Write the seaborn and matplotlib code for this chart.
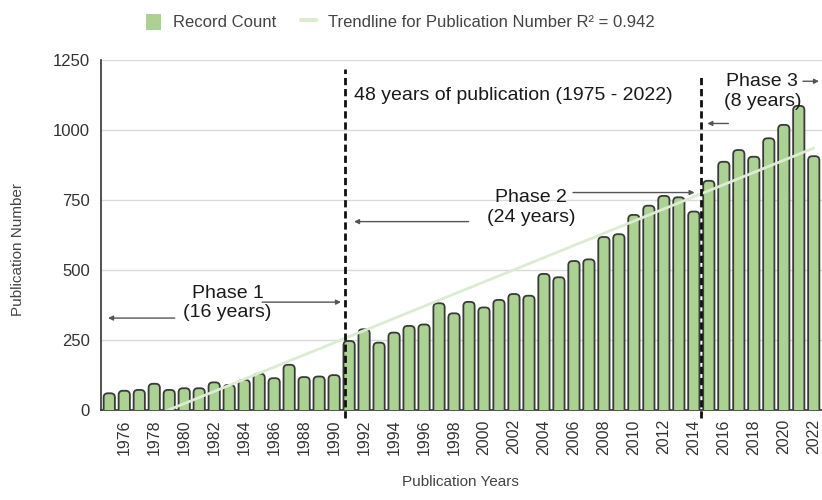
import numpy as np
import pandas as pd
import matplotlib.pyplot as plt
import seaborn as sns
from matplotlib.patches import FancyBboxPatch, Patch
from matplotlib.lines import Line2D

# Publication counts per year
years = list(range(1975, 2023))
record_count = [58, 67, 70, 92, 70, 76, 76, 97, 88, 106, 128, 112, 160, 116, 118, 123,
                245, 287, 239, 275, 299, 304, 380, 344, 385, 365, 392, 413, 407,
                485, 473, 531, 537, 617, 627, 696, 729, 764, 759, 708,
                818, 886, 928, 904, 970, 1018, 1086, 906]
tick_years = list(range(1976, 2023, 2))

# Phase boundaries and labels
phase_bounds = [1990.75, 2014.5]
phase_tops = [1218, 1190]
phase_labels = ["Phase 1\n(16 years)", "Phase 2\n(24 years)", "Phase 3\n(8 years)"]
span_label = "48 years of publication (1975 - 2022)"
r2_label = "Trendline for Publication Number R\u00b2 = 0.942"

bar_color = "#abd193"
edge_color = "#3a3a3a"
trend_color = "#dcecd2"
text_color = "#1a1a1a"
arrow_color = "#555555"

sns.set_theme(style="white")
plt.rcParams['font.family'] = ['Liberation Sans', 'DejaVu Sans']

df = pd.DataFrame({'Year': years, 'Count': record_count})

fig, ax = plt.subplots(figsize=(8.22, 5.0), dpi=100)
fig.subplots_adjust(left=0.1229, right=1.0, bottom=0.181, top=0.88)

sns.barplot(data=df, x='Year', y='Count', native_scale=True, width=0.75,
            color=bar_color, saturation=1, ax=ax)

# swap the plain rectangles for bars with rounded tops
for p in list(ax.patches):
    x0, w, h = p.get_x(), p.get_width(), p.get_height()
    p.remove()
    ax.add_patch(FancyBboxPatch((x0, -40), w, h + 40,
                                boxstyle="round,pad=0,rounding_size=0.28",
                                mutation_aspect=53, fc=bar_color, ec=edge_color,
                                lw=1.3, zorder=3))

# linear trendline
sns.regplot(data=df, x='Year', y='Count', scatter=False, ci=None, ax=ax,
            line_kws=dict(color=trend_color, lw=2, zorder=4))

ax.set_xlim(1974.45, 2022.55)
ax.set_ylim(0, 1250)
ax.set_yticks([0, 250, 500, 750, 1000, 1250])
ax.set_xticks(tick_years)
ax.set_xticklabels([str(y) for y in tick_years], rotation=90)
ax.yaxis.grid(True, color='#d9d9d9', lw=1)
ax.set_axisbelow(True)
ax.tick_params(axis='x', length=0, pad=7, labelsize=11.5, labelcolor='#333333')
ax.tick_params(axis='y', length=0, pad=8, labelsize=12, labelcolor='#333333')
ax.set_xlabel('')
ax.set_ylabel('')
for s in ['top', 'right']:
    ax.spines[s].set_visible(False)
for s in ['left', 'bottom']:
    ax.spines[s].set_color('#333333')
    ax.spines[s].set_linewidth(1.2)

# phase boundaries
for xb, top in zip(phase_bounds, phase_tops):
    ax.plot([xb, xb], [-30, top], color='#111111', lw=2, ls='--',
            dashes=(2.6, 1.4), clip_on=False, zorder=5)

ax.text(1991.33, 1124, span_label, ha='left', va='center', fontsize=14,
        color=text_color, zorder=6)

ax.text(1982.9, 381, phase_labels[0], ha='center', va='center', fontsize=14,
        color=text_color, zorder=6)
ax.text(2003.15, 723, phase_labels[1], ha='center', va='center', fontsize=14,
        color=text_color, zorder=6)
ax.text(2018.57, 1138, phase_labels[2], ha='center', va='center', fontsize=14,
        color=text_color, zorder=6)

arrows = [((1979.37, 327), (1974.92, 327)),
          ((1985.2, 384), (1990.46, 384)),
          ((1998.97, 672), (1991.33, 672)),
          ((2005.94, 776), (2014.05, 776)),
          ((2021.28, 1174), (2022.35, 1174)),
          ((2016.3, 1023), (2014.9, 1023))]
for start, end in arrows:
    ax.annotate('', xy=end, xytext=start, annotation_clip=False,
                arrowprops=dict(arrowstyle='-|>', color=arrow_color, lw=1,
                                mutation_scale=7, shrinkA=0, shrinkB=0), zorder=6)

fig.text(18 / 822, 1 - 250 / 500, 'Publication Number', rotation=90,
         ha='center', va='center', fontsize=11, color='#444444')
fig.text(460 / 822, 1 - 482 / 500, 'Publication Years', ha='center',
         va='center', fontsize=11, color='#444444')

handles = [Patch(fc=bar_color, ec='none', label='Record Count'),
           Line2D([], [], color=trend_color, lw=3, label=r2_label)]
fig.legend(handles=handles, loc='center', bbox_to_anchor=(0.487, 0.956), ncol=2,
           frameon=False, fontsize=12, handlelength=0.9, handleheight=1.1,
           columnspacing=1.5, handletextpad=0.7, labelcolor='#444444')

fig.savefig('out.png', dpi=100)
